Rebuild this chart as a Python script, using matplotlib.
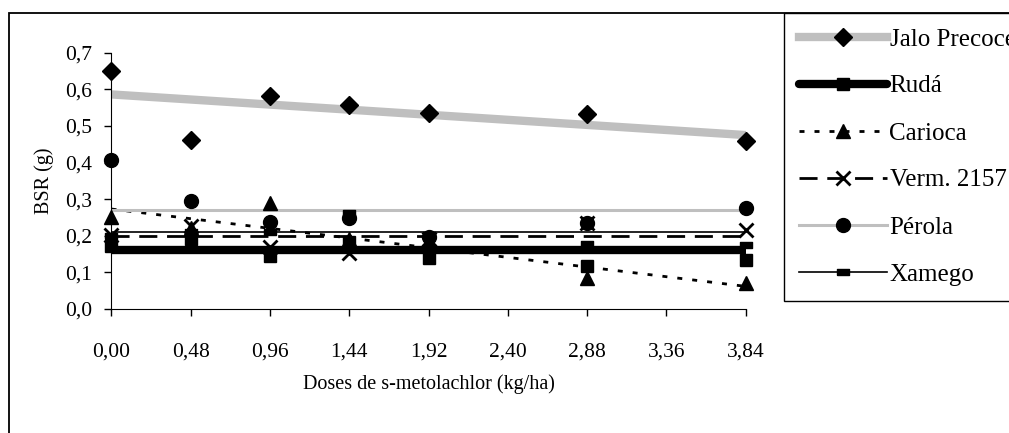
import numpy as np
import matplotlib.pyplot as plt
from matplotlib.lines import Line2D
from matplotlib.patches import Rectangle

plt.rcParams['font.family'] = ['Liberation Serif', 'DejaVu Serif']

doses = [0.00, 0.48, 0.96, 1.44, 1.92, 2.88, 3.84]
jalo = [0.650, 0.462, 0.582, 0.557, 0.535, 0.533, 0.459]
ruda = [0.172, 0.190, 0.145, 0.184, 0.139, 0.117, 0.134]
carioca = [0.250, 0.220, 0.290, 0.190, 0.180, 0.085, 0.070]
verm = [0.202, 0.227, 0.170, 0.153, 0.190, 0.235, 0.216]
perola = [0.407, 0.296, 0.238, 0.248, 0.197, 0.235, 0.275]
xamego = [0.200, 0.210, 0.210, 0.262, 0.200, 0.178, 0.175]

# trend lines: (intercept, slope)
fit_jalo = (0.586, -0.0289)
fit_ruda = (0.160, 0.0)
fit_carioca = (0.273, -0.055)
fit_verm = (0.199, 0.0)
fit_perola = (0.269, 0.0)
fit_xamego = (0.211, 0.0)

xticks = [0.00, 0.48, 0.96, 1.44, 1.92, 2.40, 2.88, 3.36, 3.84]

fig = plt.figure(figsize=(10.09, 4.33), dpi=100)
ax = fig.add_axes([0.1105, 0.2864, 0.6284, 0.5919])

# outer frame (clipped at right and bottom like the original)
fig.patches.append(Rectangle((9 / 1009, -0.2), 1.5, 1.2 - 13 / 433,
                             transform=fig.transFigure, fill=False,
                             edgecolor='black', linewidth=1.3))

rect_mk = [(-1, -0.5), (1, -0.5), (1, 0.5), (-1, 0.5), (-1, -0.5)]

xs = np.array([doses[0], doses[-1]])

def trend(fit):
    return fit[0] + fit[1] * xs

gray = '#bfbfbf'
styles = [
    ('Jalo Precoce', jalo, fit_jalo, dict(color=gray, lw=6), dict(marker='D', ms=9)),
    ('Rudá', ruda, fit_ruda, dict(color='black', lw=6, solid_capstyle='round'), dict(marker='s', ms=9)),
    ('Carioca', carioca, fit_carioca, dict(color='black', lw=2, ls=(0, (1.8, 3.6))), dict(marker='^', ms=10)),
    ('Verm. 2157', verm, fit_verm, dict(color='black', lw=2, ls=(0, (6.5, 3.5))), dict(marker='x', ms=10, mew=2)),
    ('Pérola', perola, fit_perola, dict(color=gray, lw=2.2), dict(marker='o', ms=10)),
    ('Xamego', xamego, fit_xamego, dict(color='black', lw=1.2), dict(marker=rect_mk, ms=8)),
]

handles = []
for name, vals, fit, lstyle, mstyle in styles:
    ax.plot(xs, trend(fit), zorder=2, **lstyle)
    ax.plot(doses, vals, ls='none', color='black', mfc='black', mec='black',
            clip_on=False, zorder=3, **mstyle)
    handles.append(Line2D([], [], mfc='black', mec='black', **lstyle, **mstyle))

ax.set_xlim(0, 3.84)
ax.set_ylim(0, 0.7)
ax.set_xticks(xticks)
ax.set_xticklabels([('%.2f' % v).replace('.', ',') for v in xticks])
yt = np.arange(0, 0.71, 0.1)
ax.set_yticks(yt)
ax.set_yticklabels([('%.1f' % v).replace('.', ',') for v in yt])
ax.tick_params(direction='out', length=5, width=1, labelsize=15.5, pad=9)
ax.tick_params(axis='x', pad=19)
for s in ['top', 'right']:
    ax.spines[s].set_visible(False)
ax.set_xlabel('Doses de s-metolachlor (kg/ha)', fontsize=14.5, labelpad=9)
ax.set_ylabel('BSR (g)', fontsize=14.5, labelpad=8)

fig.legend(handles=handles, labels=[s[0] for s in styles], loc='upper left',
           bbox_to_anchor=(784 / 1009, 1 - 13 / 433), borderaxespad=0,
           frameon=True, fancybox=False, edgecolor='black', fontsize=18,
           handlelength=3.5, handletextpad=0.12, labelspacing=0.98,
           borderpad=0.6, framealpha=1)

fig.savefig('out.png', dpi=100)
